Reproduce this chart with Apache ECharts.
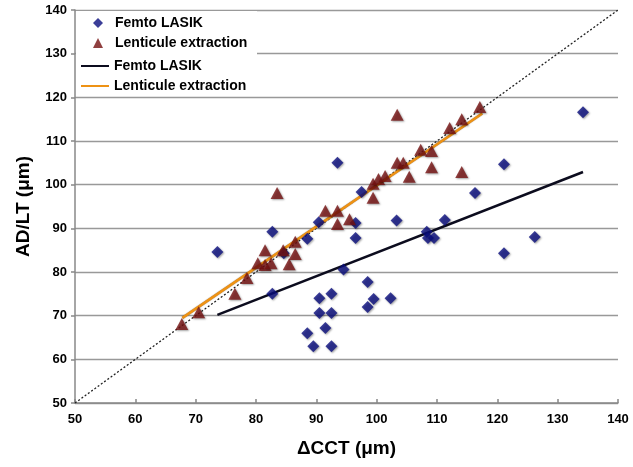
<!DOCTYPE html>
<html>
<head>
    <title>AD/LT vs dCCT</title>
    <meta http-equiv="Content-Type" content="text/html; charset=utf-8" />
    <script src="https://cdn.jsdelivr.net/npm/echarts@6/dist/echarts.min.js"></script>
    <style>
        html, body { margin: 0; padding: 0; background: #fff; }
    </style>
</head>
<body>
    <div id="div_echart" style="width: 633px; height: 467px;"></div>
    <script>
        // values
        var femtoPoints = [
            [73.6, 84.6], [82.7, 89.2], [82.7, 75], [84.6, 84.3], [88.5, 87.6],
            [90.4, 91.4], [93.5, 105], [94.5, 80.6], [96.5, 91.2], [96.5, 87.8],
            [97.5, 98.3], [98.5, 77.7], [98.5, 72], [99.5, 73.8], [90.5, 74],
            [92.5, 75], [90.5, 70.6], [92.5, 70.6], [91.5, 67.2], [88.5, 66],
            [89.5, 63], [92.5, 63], [102.3, 74], [103.3, 91.8], [108.3, 89.2],
            [108.5, 87.8], [109.5, 87.8], [111.3, 91.9], [116.3, 98.1], [121.1, 104.7],
            [121.1, 84.3], [126.2, 88], [134.2, 116.6]
        ];
        var lentPoints = [
            [67.7, 68.1], [70.5, 70.8], [76.5, 75], [78.5, 78.6], [80.3, 82],
            [81.5, 85], [81.5, 81.6], [82.5, 82], [83.5, 98.1], [84.5, 85],
            [85.5, 81.8], [86.5, 84.1], [86.5, 86.9], [91.5, 94], [93.5, 94],
            [93.5, 91], [95.5, 92.1], [99.4, 97], [99.4, 100.2], [100.3, 101.3],
            [101.4, 102], [103.4, 105], [104.4, 105], [105.4, 101.8], [103.4, 116],
            [107.3, 108], [109.1, 107.7], [109.1, 104], [112.1, 113], [114.1, 115],
            [114.1, 102.9], [117.1, 117.8]
        ];
        var femtoFit = [[73.6, 70.2], [134.2, 102.9]];
        var lentFit = [[67.8, 69.5], [117.5, 116.3]];
        var identityLine = [[50, 50], [140, 140]];
        var axisMin = 50, axisMax = 140, axisStep = 10;

        function EchartInit() {
            var mychart = echarts.init(document.getElementById("div_echart"));
            var font = 'Liberation Sans, Arial, sans-serif';
            var shadow = { shadowBlur: 2, shadowColor: 'rgba(0,0,0,0.45)', shadowOffsetX: 1, shadowOffsetY: 1 };

            var option = {
                backgroundColor: '#fff',
                animation: false,
                grid: { left: 75, right: 15, top: 10, bottom: 64 },
                // white box behind the legend hides the grid lines
                graphic: [{
                    type: 'rect', z: 3,
                    shape: { x: 76, y: 11, width: 181, height: 84 },
                    style: { fill: '#fff' }
                }],
                legend: [
                    {
                        orient: 'vertical', left: 93, top: 16, itemGap: 6, padding: 0,
                        itemWidth: 10, itemHeight: 10,
                        textStyle: { fontFamily: font, fontWeight: 'bold', fontSize: 14, color: '#000', padding: [0, 0, 0, 7] },
                        data: [
                            { name: 'Femto LASIK', icon: 'diamond' },
                            { name: 'Lenticule extraction', icon: 'triangle' }
                        ]
                    },
                    {
                        orient: 'vertical', left: 81, top: 59, itemGap: 6, padding: 0,
                        itemWidth: 28, itemHeight: 2,
                        textStyle: { fontFamily: font, fontWeight: 'bold', fontSize: 14, color: '#000' },
                        data: [
                            { name: 'Femto LASIK ', icon: 'rect' },
                            { name: 'Lenticule extraction ', icon: 'rect' }
                        ]
                    }
                ],
                xAxis: {
                    type: 'value', min: axisMin, max: axisMax, interval: axisStep,
                    name: '\u0394CCT (\u03bcm)', nameLocation: 'middle', nameGap: 36,
                    nameTextStyle: { fontFamily: font, fontWeight: 'bold', fontSize: 19, color: '#000' },
                    axisLine: { lineStyle: { color: '#888', width: 1.5 } },
                    axisTick: { inside: true, length: 4, lineStyle: { color: '#888', width: 1.5 } },
                    axisLabel: { margin: 10, fontFamily: font, fontWeight: 'bold', fontSize: 13, color: '#000' },
                    splitLine: { show: false }
                },
                yAxis: {
                    type: 'value', min: axisMin, max: axisMax, interval: axisStep,
                    name: 'AD/LT (\u03bcm)', nameLocation: 'middle', nameGap: 42, nameRotate: 90,
                    nameTextStyle: { fontFamily: font, fontWeight: 'bold', fontSize: 19, color: '#000' },
                    axisLine: { show: true, lineStyle: { color: '#888', width: 1.5 } },
                    axisTick: { show: true, length: 4, lineStyle: { color: '#888', width: 1.5 } },
                    axisLabel: { margin: 8, fontFamily: font, fontWeight: 'bold', fontSize: 13, color: '#000' },
                    splitLine: { lineStyle: { color: '#999', width: 1.3 } }
                },
                series: [
                    {
                        name: 'identity', type: 'line', data: identityLine, showSymbol: false, z: 1,
                        lineStyle: { color: '#222', width: 1.3, type: [2, 2] }
                    },
                    {
                        name: 'Femto LASIK ', type: 'line', data: femtoFit, showSymbol: false,
                        lineStyle: { color: '#0c0c1e', width: 2.5 }, itemStyle: { color: '#0c0c1e' }
                    },
                    {
                        name: 'Lenticule extraction ', type: 'line', data: lentFit, showSymbol: false,
                        lineStyle: { color: '#ee9214', width: 2.5, shadowBlur: 1, shadowColor: 'rgba(60,30,0,0.6)' },
                        itemStyle: { color: '#ee9214' }
                    },
                    {
                        name: 'Femto LASIK', type: 'scatter', data: femtoPoints, symbol: 'diamond', symbolSize: 12, z: 4,
                        itemStyle: Object.assign({ color: '#0a0e7e' }, shadow)
                    },
                    {
                        name: 'Lenticule extraction', type: 'scatter', data: lentPoints, symbol: 'triangle', symbolSize: [13, 12], z: 4,
                        itemStyle: Object.assign({ color: '#741010' }, shadow)
                    }
                ]
            };

            mychart.setOption(option, true);
        }

        EchartInit();
    </script>
</body>
</html>
